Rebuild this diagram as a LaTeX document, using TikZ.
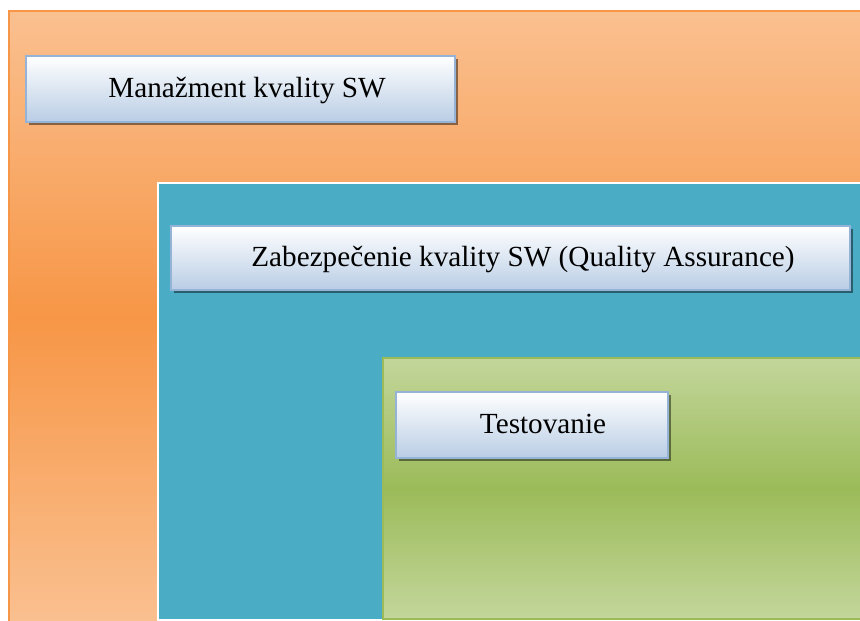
\documentclass[tikz,border=0pt]{standalone}
\usepackage{fontspec}
\setmainfont{Liberation Serif}
\usetikzlibrary{shadows}

\definecolor{orLight}{RGB}{250,192,144}
\definecolor{orDark}{RGB}{247,150,70}
\definecolor{tealFill}{RGB}{75,172,198}
\definecolor{grLight}{RGB}{195,214,155}
\definecolor{grDark}{RGB}{155,187,89}
\definecolor{boxLine}{RGB}{149,179,215}
\definecolor{boxBottom}{RGB}{185,205,229}

\tikzset{
  labelbox/.style={draw=boxLine, line width=2.2pt, top color=white, bottom color=boxBottom,
    inner sep=0pt, outer sep=0pt, anchor=north west,
    drop shadow={shadow xshift=3pt, shadow yshift=-3pt, opacity=0.45, fill=black}},
  labeltext/.style={font=\fontsize{29.2}{33}\selectfont, inner sep=0pt, anchor=base, text=black},
}

\begin{document}
\begin{tikzpicture}[x=1pt, y=-1pt]
\useasboundingbox (0,0) rectangle (860,621);
\clip (0,0) rectangle (860,621);
\fill[white] (0,0) rectangle (860,621);

% outer layer: quality management
\draw[draw=orDark, line width=2pt, top color=orLight, bottom color=orLight, middle color=orDark]
  (9,11) rectangle (880,623);

% middle layer: quality assurance
\draw[draw=white, line width=2pt, fill=tealFill] (158,183) rectangle (880,620);

% inner layer: testing
\draw[draw=grDark, line width=2pt, top color=grLight, bottom color=grLight, middle color=grDark]
  (383,358) rectangle (880,618.5);

% title boxes
\node[labelbox, minimum width=429pt, minimum height=66pt] (mgmt) at (26,56) {};
\node[labeltext] (mgmtT) at (247,97) {Manažment kvality SW};

\node[labelbox, minimum width=679pt, minimum height=64pt] (qa) at (171,226) {};
\node[labeltext] (qaT) at (523,266) {Zabezpečenie kvality SW (Quality Assurance)};

\node[labelbox, minimum width=272pt, minimum height=66pt] (test) at (396,392) {};
\node[labeltext] (testT) at (543,433) {Testovanie};
\end{tikzpicture}
\end{document}
